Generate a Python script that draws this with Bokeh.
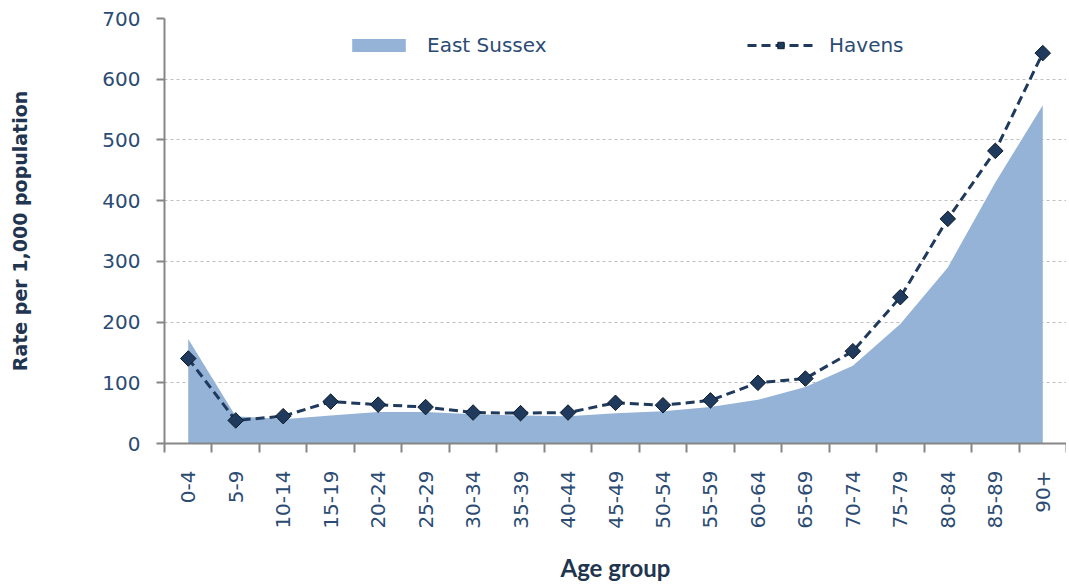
import numpy as np
from bokeh.plotting import figure
from bokeh.models import (Range1d, FixedTicker, Legend, LegendItem, ColumnDataSource)
from bokeh.embed import file_html
from bokeh.resources import INLINE
from math import pi

# ---- data ----
age_groups = ["0-4", "5-9", "10-14", "15-19", "20-24", "25-29", "30-34", "35-39",
              "40-44", "45-49", "50-54", "55-59", "60-64", "65-69", "70-74",
              "75-79", "80-84", "85-89", "90+"]
east_sussex = [172, 45, 40, 46, 52, 52, 48, 46, 45, 50, 53, 60, 72, 93, 128,
               197, 290, 430, 557]
havens = [140, 38, 45, 69, 64, 60, 51, 50, 51, 67, 63, 71, 100, 107, 152,
          241, 370, 482, 643]
y_ticks = [0, 100, 200, 300, 400, 500, 600, 700]

idx = list(range(len(age_groups)))
src = ColumnDataSource(dict(x=idx, es=east_sussex, hv=havens,
                            zero=[0] * len(idx)))

TXT = "#2B4B73"
TITLE = "#1F3550"
AREA = "#95B3D7"
LINE = "#1F3A5C"

p = figure(width=1066, height=584, output_backend="svg", toolbar_location=None,
           x_range=Range1d(-0.5, len(idx) - 0.5), y_range=Range1d(0, 700),
           min_border_left=164, min_border_right=0, min_border_top=18,
           min_border_bottom=140)
p.outline_line_color = None
p.background_fill_color = "white"

area = p.varea(x="x", y1="zero", y2="es", source=src, fill_color=AREA)
line = p.line(x="x", y="hv", source=src, line_color=LINE, line_width=3,
              line_dash="9 5")
pts = p.scatter(x="x", y="hv", source=src, marker="square", angle=pi / 4,
                size=11, fill_color=LINE, line_color="#0D1B2A", line_width=1)

# x axis
xa = p.xaxis[0]
xa.ticker = FixedTicker(ticks=idx,
                        minor_ticks=[i - 0.5 for i in range(len(idx) + 1)])
xa.major_label_overrides = {i: g for i, g in enumerate(age_groups)}
xa.major_label_orientation = pi / 2
xa.major_tick_out = 0
xa.major_tick_in = 0
xa.minor_tick_out = 9
xa.minor_tick_in = 0
xa.minor_tick_line_color = "#868686"
xa.minor_tick_line_width = 2
xa.axis_line_color = "#868686"
xa.axis_line_width = 2
xa.major_label_standoff = 18
xa.major_label_text_font = "DejaVu Sans"
xa.major_label_text_font_size = "20px"
xa.major_label_text_color = TXT
xa.axis_label = "Age group"
xa.axis_label_text_font = "Lato"
xa.axis_label_text_font_style = "bold"
xa.axis_label_text_font_size = "24px"
xa.axis_label_text_color = TITLE
xa.axis_label_standoff = 21

# y axis
ya = p.yaxis[0]
ya.ticker = FixedTicker(ticks=y_ticks)
ya.minor_tick_line_color = None
ya.major_tick_out = 8
ya.major_tick_in = 0
ya.major_tick_line_color = "#868686"
ya.major_tick_line_width = 2
ya.axis_line_color = "#868686"
ya.axis_line_width = 2
ya.major_label_standoff = 16
ya.major_label_text_font = "DejaVu Sans"
ya.major_label_text_font_size = "20px"
ya.major_label_text_color = TXT
ya.axis_label = "Rate per 1,000 population"
ya.axis_label_text_font = "DejaVu Sans"
ya.axis_label_text_font_style = "bold"
ya.axis_label_text_font_size = "19px"
ya.axis_label_text_color = TITLE
ya.axis_label_standoff = 68

p.xgrid.grid_line_color = None
p.ygrid.grid_line_color = "#BFBFBF"
p.ygrid.grid_line_dash = "3 3"
p.ygrid.grid_line_width = 1

legend = Legend(items=[LegendItem(label="East Sussex", renderers=[area]),
                       LegendItem(label="Havens", renderers=[line, pts])],
                orientation="horizontal", location=(181, 386),
                border_line_color=None, background_fill_alpha=0,
                padding=0, margin=0, spacing=18, label_width=302,
                glyph_width=67, glyph_height=16, label_standoff=15,
                label_text_font="DejaVu Sans", label_text_font_size="20px",
                label_text_color=TXT)
p.add_layout(legend)

open("out.html", "w").write(file_html(p, INLINE))
